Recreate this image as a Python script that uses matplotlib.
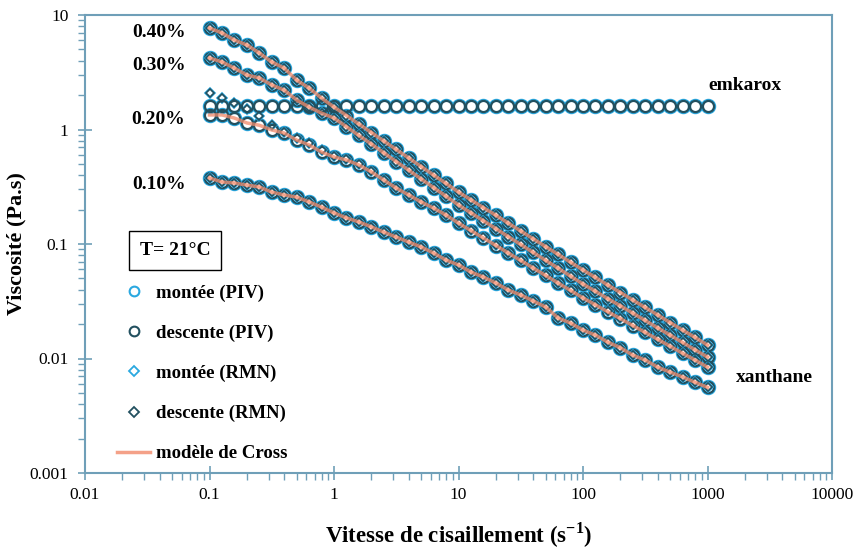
import numpy as np
import matplotlib
matplotlib.use("Agg")
import matplotlib.pyplot as plt
from matplotlib.lines import Line2D

plt.rcParams['font.family'] = ['Liberation Serif', 'DejaVu Serif']
plt.rcParams['mathtext.fontset'] = 'custom'
plt.rcParams['mathtext.rm'] = 'Liberation Serif'
plt.rcParams['mathtext.bf'] = 'Liberation Serif:bold'

# shear rates (s^-1), 10 points per decade from 0.1 to 1000
shear = [0.1, 0.126, 0.158, 0.2, 0.251, 0.316, 0.398, 0.501, 0.631, 0.794,
         1.0, 1.26, 1.58, 2.0, 2.51, 3.16, 3.98, 5.01, 6.31, 7.94,
         10.0, 12.6, 15.8, 20.0, 25.1, 31.6, 39.8, 50.1, 63.1, 79.4,
         100.0, 126, 158, 200, 251, 316, 398, 501, 631, 794, 1000]

visc_040 = [7.69, 6.97, 6.05, 5.47, 4.66, 3.89, 3.44, 2.70, 2.30, 1.88,
            1.57, 1.325, 1.117, 0.941, 0.794, 0.669, 0.564, 0.475, 0.400, 0.338,
            0.284, 0.243, 0.208, 0.178, 0.152, 0.130, 0.111, 0.0949, 0.0811, 0.0693,
            0.0593, 0.0510, 0.0438, 0.0377, 0.0324, 0.0279, 0.0240, 0.0206, 0.0177, 0.0153, 0.0131]
visc_030 = [4.21, 3.89, 3.44, 2.99, 2.82, 2.45, 2.21, 1.81, 1.57, 1.39,
            1.26, 1.058, 0.888, 0.746, 0.626, 0.525, 0.441, 0.370, 0.311, 0.261,
            0.219, 0.187, 0.160, 0.136, 0.116, 0.0990, 0.0844, 0.0720, 0.0615, 0.0524,
            0.0447, 0.0386, 0.0333, 0.0288, 0.0249, 0.0215, 0.0185, 0.0160, 0.0138, 0.0119, 0.0103]
visc_020 = [1.34, 1.34, 1.26, 1.14, 1.09, 0.991, 0.931, 0.809, 0.733, 0.635,
            0.575, 0.542, 0.490, 0.426, 0.362, 0.308, 0.268, 0.233, 0.206, 0.179,
            0.152, 0.131, 0.113, 0.097, 0.0834, 0.0718, 0.0617, 0.0531, 0.0456, 0.0393,
            0.0338, 0.0294, 0.0256, 0.0223, 0.0194, 0.0169, 0.0147, 0.0128, 0.0111, 0.0097, 0.0084]
visc_010 = [0.377, 0.348, 0.341, 0.327, 0.315, 0.284, 0.268, 0.257, 0.233, 0.210,
            0.187, 0.169, 0.156, 0.141, 0.127, 0.115, 0.104, 0.0942, 0.0834, 0.0724,
            0.0656, 0.0569, 0.0515, 0.0456, 0.0396, 0.0359, 0.0318, 0.0282, 0.0226, 0.0204,
            0.0177, 0.0160, 0.0139, 0.0124, 0.0107, 0.0097, 0.0084, 0.0076, 0.0069, 0.0062, 0.0056]
visc_emkarox = [1.6] * 41

# RMN data at 0.20% (higher at lowest shear rates)
visc_020_rmn = [2.1, 1.9, 1.7, 1.5, 1.3, 1.1, 0.96, 0.84, 0.76, 0.66,
                0.59, 0.55, 0.50, 0.43, 0.365, 0.31, 0.27, 0.235, 0.207, 0.180,
                0.153, 0.132, 0.114, 0.098, 0.0840, 0.0723, 0.0621, 0.0535, 0.0459, 0.0396,
                0.0340, 0.0296, 0.0258, 0.0225, 0.0195, 0.0170, 0.0148, 0.0129, 0.0112, 0.0098, 0.0085]

xanthane = [visc_040, visc_030, visc_020, visc_010]
rmn_sets = [visc_040, visc_030, visc_020_rmn, visc_010]
conc_labels = ['0.40%', '0.30%', '0.20%', '0.10%']
conc_label_pos = [7.1, 3.65, 1.22, 0.33]

c_montee = '#2aa8e0'
c_desc = '#22505f'
c_cross = '#f28a6a'
c_axis = '#6f9fb8'

fig = plt.figure(figsize=(8.59, 5.53), dpi=100)
ax = fig.add_axes([85/859, 80/553, 747/859, 458/553])

for v, vr in zip(xanthane, rmn_sets):
    ax.plot(shear, v, 'o', ms=9.5, mfc='none', mec=c_montee, mew=1.6, zorder=2)
    ax.plot(shear, v, 'o', ms=8, mfc='none', mec=c_desc, mew=1.6, zorder=3)
    ax.plot(shear, vr, 'D', ms=5.5, mfc='none', mec=c_montee, mew=1.2, zorder=3)
    ax.plot(shear, vr, 'D', ms=4.5, mfc='none', mec=c_desc, mew=1.2, zorder=4)
    ax.plot(shear, v, '-', color=c_cross, lw=2.5, alpha=0.75, zorder=5)

ax.plot(shear, visc_emkarox, 'o', ms=9.5, mfc='none', mec=c_montee, mew=1.6, zorder=2)
ax.plot(shear, visc_emkarox, 'o', ms=8, mfc='none', mec=c_desc, mew=1.6, zorder=3)

ax.set_xscale('log')
ax.set_yscale('log')
ax.set_xlim(0.01, 10000)
ax.set_ylim(0.001, 10)
ax.set_xticks([0.01, 0.1, 1, 10, 100, 1000, 10000])
ax.set_xticklabels(['0.01', '0.1', '1', '10', '100', '1000', '10000'])
ax.set_yticks([0.001, 0.01, 0.1, 1, 10])
ax.set_yticklabels(['0.001', '0.01', '0.1', '1', '10'])

for s in ax.spines.values():
    s.set_color(c_axis)
    s.set_linewidth(1.5)
ax.tick_params(which='major', direction='inout', length=10, width=1.2, color=c_axis,
               labelsize=12.5)
ax.tick_params(which='minor', direction='out', length=5, width=1.0, color=c_axis)
ax.tick_params(axis='x', which='major', pad=5)
ax.tick_params(axis='y', which='major', pad=7)

ax.set_xlabel('Vitesse de cisaillement (s$^{\\mathbf{-1}}$)', fontsize=16.5, fontweight='bold', labelpad=13)
ax.set_ylabel('Viscosité (Pa.s)', fontsize=16, fontweight='bold')
ax.yaxis.set_label_coords(-0.079, 0.5)

# annotations
ann = dict(fontsize=14, fontweight='bold', ha='center', va='center')
for lab, yv in zip(conc_labels, conc_label_pos):
    ax.text(0.039, yv, lab, **ann)
ax.text(2000, 2.4, 'emkarox', **ann)
ax.text(3470, 0.0068, 'xanthane', **ann)

ax.text(0.121, 0.486, 'T= 21°C', transform=ax.transAxes, fontsize=14, fontweight='bold',
        ha='center', va='center',
        bbox=dict(boxstyle='square,pad=0.55', fc='white', ec='black', lw=1.0))

handles = [
    Line2D([], [], ls='none', marker='o', ms=7, mfc='none', mec=c_montee, mew=1.5),
    Line2D([], [], ls='none', marker='o', ms=7, mfc='none', mec=c_desc, mew=1.5),
    Line2D([], [], ls='none', marker='D', ms=5, mfc='none', mec=c_montee, mew=1.3),
    Line2D([], [], ls='none', marker='D', ms=5, mfc='none', mec=c_desc, mew=1.3),
    Line2D([], [], color=c_cross, lw=2.5, alpha=0.8),
]
labels = ['montée (PIV)', 'descente (PIV)', 'montée (RMN)', 'descente (RMN)', 'modèle de Cross']
leg = ax.legend(handles, labels, loc='upper left', bbox_to_anchor=(0.043, 0.412),
                frameon=False, labelspacing=1.22, handlelength=1.75, handletextpad=0.3,
                prop=dict(family='Liberation Serif', weight='bold', size=13.5),
                borderpad=0, borderaxespad=0)

fig.savefig('out.png', dpi=100, facecolor='white')
